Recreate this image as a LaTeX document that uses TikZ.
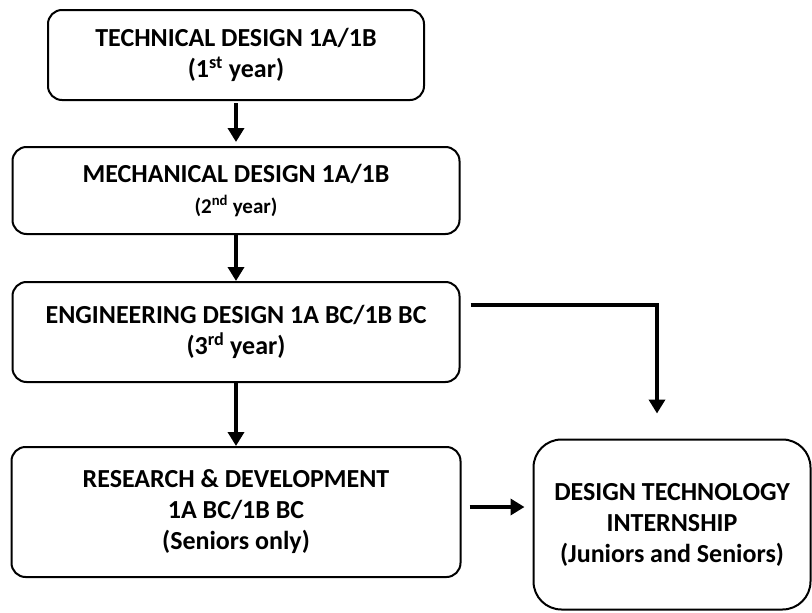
\documentclass[tikz,border=0pt]{standalone}
\usepackage{fontspec}
\setmainfont{Carlito}
\usetikzlibrary{positioning,arrows.meta}

\begin{document}
\begin{tikzpicture}[x=1pt,y=1pt,>={Triangle[width=16pt,length=14pt]},line width=2pt,node distance=45pt,
    course node/.style={draw,rounded corners=14pt,align=center,inner sep=0pt,font=\bfseries\fontsize{26}{31}\selectfont},
    link/.style={->,line width=4pt}]
                \useasboundingbox (0,0) rectangle (812,-613);
                \node[course node,minimum width=376pt,minimum height=90pt] (tech) at (236,-55) {TECHNICAL DESIGN 1A/1B\\(1\textsuperscript{st} year)};
                \node[course node,minimum width=447pt,minimum height=87pt] (mech) [below=of tech] {MECHANICAL DESIGN 1A/1B\\{\fontsize{21}{24}\selectfont(2\textsuperscript{nd} year)}};
                \node[course node,minimum width=447pt,minimum height=100pt] (eng) [below=46pt of mech] {ENGINEERING DESIGN 1A BC/1B BC\\(3\textsuperscript{rd} year)};
                \node[course node,minimum width=449pt,minimum height=130pt] (res) [below=63pt of eng] {RESEARCH \& DEVELOPMENT\\1A BC/1B BC\\(Seniors only)};
                \node[course node,rounded corners=28pt,minimum width=277pt,minimum height=170pt] (intern) at (672,-524.5) {DESIGN TECHNOLOGY\\INTERNSHIP\\(Juniors and Seniors)};
                \coordinate (drop) at ([xshift=-15pt,yshift=25pt]intern.north);

                \draw[link,shorten <=2pt,shorten >=4pt] (tech) -- (mech);
                \draw[link] (mech) -- (eng);
                \draw[link] (eng) -- (res);
                \draw[link,shorten <=8pt,shorten >=8pt] ([yshift=5pt]res.east) -- ([yshift=5pt]res.east -| intern.west);
                \draw[link,shorten <=10pt] ([yshift=27pt]eng.east) -| (drop);
            \end{tikzpicture}
\end{document}
